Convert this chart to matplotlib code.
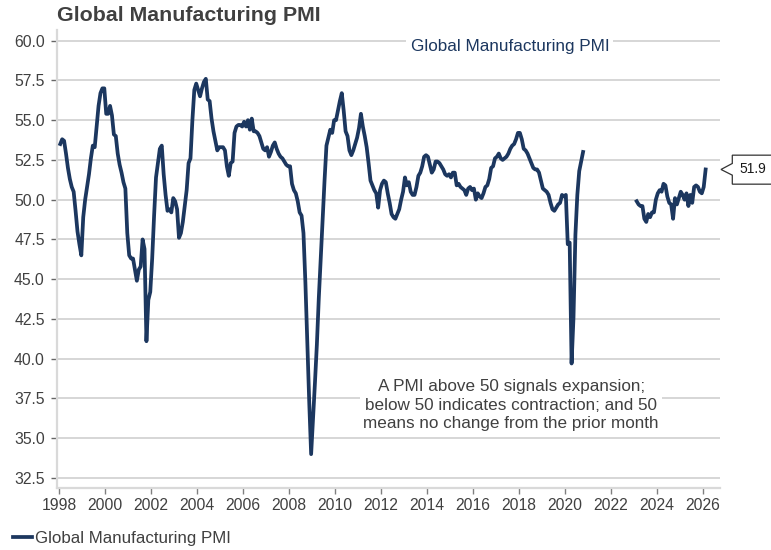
import numpy as np
import matplotlib
matplotlib.use("Agg")
import matplotlib.pyplot as plt
from matplotlib.patches import Polygon
from matplotlib.transforms import blended_transform_factory, Affine2D

plt.rcParams['font.family'] = ['Liberation Sans', 'DejaVu Sans']

# ---------------- data ----------------
title = "Global Manufacturing PMI"
series_name = "Global Manufacturing PMI"
note_text = ("A PMI above 50 signals expansion;\n"
             "below 50 indicates contraction; and 50\n"
             "means no change from the prior month")

# first segment: monthly, Jan 1998 - Oct 2020
start_1 = (1998, 1)
pmi_1 = [
    53.5, 53.8, 53.7, 52.9, 52.0, 51.3, 50.8, 50.5, 49.3, 48.0, 47.2, 46.5,  # 1998
    48.9, 50.0, 50.8, 51.6, 52.6, 53.4, 53.3, 54.6, 55.9, 56.7, 57.0, 57.0,  # 1999
    55.4, 55.4, 55.9, 55.3, 54.1, 54.0, 52.9, 52.2, 51.7, 51.1, 50.7, 47.9,  # 2000
    46.5, 46.3, 46.3, 45.6, 44.9, 45.6, 45.8, 47.5, 46.9, 41.1, 43.7, 44.2,  # 2001
    46.3, 49.0, 51.4, 52.3, 53.2, 53.4, 51.6, 50.3, 49.3, 49.4, 49.2, 50.1,  # 2002
    49.9, 49.4, 47.6, 47.9, 48.6, 49.6, 50.6, 52.3, 52.6, 55.0, 56.9, 57.3,  # 2003
    56.9, 56.5, 57.0, 57.4, 57.6, 56.3, 56.2, 55.1, 54.3, 53.7, 53.1, 53.3,  # 2004
    53.3, 53.3, 53.1, 52.1, 51.5, 52.3, 52.4, 54.2, 54.6, 54.7, 54.7, 54.6,  # 2005
    54.9, 54.6, 55.0, 54.4, 55.1, 54.3, 54.3, 54.2, 54.0, 53.6, 53.2, 53.1,  # 2006
    53.3, 52.7, 53.0, 53.4, 53.6, 53.2, 52.9, 52.7, 52.6, 52.4, 52.2, 52.1,  # 2007
    52.1, 51.0, 50.6, 50.4, 49.9, 49.2, 49.0, 47.9, 44.8, 41.0, 37.3, 34.0,  # 2008
    36.2, 38.5, 40.9, 43.8, 46.3, 48.9, 51.2, 53.4, 53.9, 54.4, 54.2, 55.0,  # 2009
    55.0, 55.6, 56.2, 56.7, 55.6, 54.3, 54.0, 53.1, 52.8, 53.1, 53.5, 53.9,  # 2010
    54.5, 55.4, 54.6, 54.0, 53.3, 52.3, 51.2, 50.9, 50.6, 50.4, 49.5, 50.6,  # 2011
    51.0, 51.2, 51.1, 50.4, 49.8, 49.1, 48.9, 48.8, 49.1, 49.4, 50.0, 50.5,  # 2012
    51.4, 50.9, 51.1, 50.5, 50.3, 50.3, 50.8, 51.5, 51.7, 52.1, 52.7, 52.8,  # 2013
    52.7, 52.2, 51.7, 51.9, 52.4, 52.4, 52.3, 52.1, 51.9, 51.6, 51.5, 51.6,  # 2014
    51.4, 51.7, 51.7, 50.9, 51.0, 50.8, 50.7, 50.6, 50.3, 50.7, 50.8, 50.6,  # 2015
    50.7, 50.0, 50.4, 50.2, 50.1, 50.4, 50.8, 50.9, 51.3, 52.0, 52.1, 52.6,  # 2016
    52.7, 52.9, 52.6, 52.5, 52.6, 52.7, 52.9, 53.2, 53.4, 53.5, 53.8, 54.2,  # 2017
    54.2, 53.8, 53.2, 53.1, 52.9, 52.6, 52.3, 52.0, 51.9, 51.9, 51.7, 51.2,  # 2018
    50.7, 50.6, 50.5, 50.3, 49.8, 49.4, 49.3, 49.5, 49.7, 49.8, 50.3, 50.2,  # 2019
    50.3, 47.2, 47.3, 39.7, 42.6, 47.8, 50.3, 51.8, 52.4, 53.0,              # 2020
]

# second segment: monthly, Feb 2023 - Feb 2026
start_2 = (2023, 2)
pmi_2 = [
    49.9, 49.7, 49.6, 49.6, 48.8, 48.6, 49.1, 48.9, 49.2, 49.2, 50.0,        # 2023
    50.4, 50.6, 50.5, 51.0, 50.9, 50.2, 49.8, 49.7, 48.8, 50.1, 49.7, 50.1,  # 2024
    50.5, 50.3, 50.0, 50.4, 49.6, 50.3, 49.8, 50.8, 50.9, 50.8, 50.5, 50.4,  # 2025
    50.8, 51.9,                                                              # 2026
]

x_ticks = list(range(1998, 2027, 2))
y_ticks = [32.5, 35.0, 37.5, 40.0, 42.5, 45.0, 47.5, 50.0, 52.5, 55.0, 57.5, 60.0]

# ---------------- style ----------------
navy = "#1c375f"
text_grey = "#404040"
grid_grey = "#cccccc"
spine_grey = "#d9d9d9"


def month_axis(start, n):
    y0, m0 = start
    return np.array([y0 + (m0 - 1 + i) / 12.0 + 1.0 / 24.0 for i in range(n)])


x1 = month_axis(start_1, len(pmi_1))
x2 = month_axis(start_2, len(pmi_2))

fig = plt.figure(figsize=(7.71, 5.5), dpi=100)
ax = fig.add_axes([57 / 771, 62 / 550, 663 / 771, 458 / 550])

line, = ax.plot(x1, pmi_1, color=navy, lw=2.7, label=series_name, zorder=3)
ax.plot(x2, pmi_2, color=navy, lw=2.7, zorder=3)

ax.set_xlim(1997.9, 2026.75)
ax.set_ylim(31.87, 60.67)
ax.set_xticks(x_ticks)
ax.set_xticklabels([str(t) for t in x_ticks])
ax.set_yticks(y_ticks)
ax.set_yticklabels([f"{v:.1f}" for v in y_ticks])

ax.yaxis.grid(True, color=grid_grey, lw=1.1, zorder=0)
ax.xaxis.grid(False)
ax.set_axisbelow(True)

for s in ("top", "right"):
    ax.spines[s].set_visible(False)
for s in ("left", "bottom"):
    ax.spines[s].set_color(spine_grey)
    ax.spines[s].set_linewidth(1.6)

ax.tick_params(axis="y", length=4.3, width=1, color="#666666", pad=4.5,
               labelsize=11.3, labelcolor=text_grey)
ax.tick_params(axis="x", length=4.0, width=1, color="#808080", pad=3,
               labelsize=11.3, labelcolor=text_grey)

# title
fig.text(57 / 771, 1 - 15.5 / 550, title, fontsize=15.4, fontweight="bold",
         color=text_grey, ha="left", va="center")

# in-chart series label
ax.text(0.683, 0.963, series_name, transform=ax.transAxes, fontsize=12.3,
        color=navy, ha="center", va="center", zorder=5,
        bbox=dict(boxstyle="square,pad=0.25", fc="white", ec="none"))

# explanatory note
ax.text(0.685, 0.181, note_text, transform=ax.transAxes, fontsize=12.3,
        color=text_grey, ha="center", va="center", linespacing=1.27,
        multialignment="center", zorder=5,
        bbox=dict(boxstyle="square,pad=0.2", fc="white", ec="none"))

# last-value callout
fig.canvas.draw()
last_val = pmi_2[-1]
bt = blended_transform_factory(ax.transAxes, ax.transData)
tip = bt.transform((1.0015, last_val))
verts = [(0, 0), (11.3, 6), (11.3, 14.3), (70, 14.3), (70, -14.7),
         (11.3, -14.7), (11.3, -5.7)]
callout = Polygon(verts, closed=True, fc="white", ec="#333333", lw=0.9,
                  transform=Affine2D().translate(tip[0], tip[1]),
                  clip_on=False, zorder=6)
fig.patches.append(callout)
callout.set_figure(fig)
fig.text((tip[0] + 31.5) / fig.bbox.width, tip[1] / fig.bbox.height,
         f"{last_val:.1f}", fontsize=10, color="#1a1a1a",
         ha="center", va="center", zorder=7)

# legend at bottom
fig.legend(handles=[line], labels=[series_name], loc="center left",
           bbox_to_anchor=(13 / 771, 1 - 538 / 550), frameon=False,
           fontsize=12.2, handlelength=1.1, handletextpad=0.2,
           borderpad=0, borderaxespad=0, labelcolor=text_grey)

fig.savefig("out.png", dpi=100)
